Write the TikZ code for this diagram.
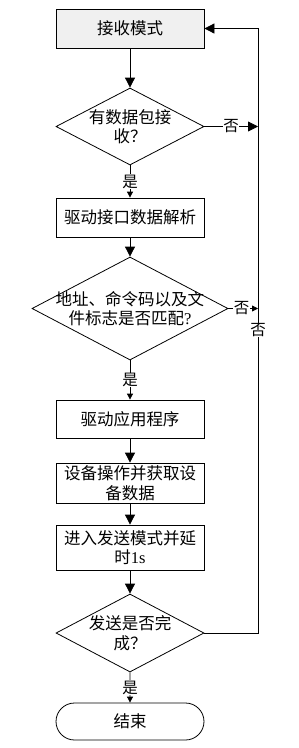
\documentclass[tikz,border=0pt]{standalone}
\usepackage{fontspec}
\setmainfont{Liberation Serif}
\newfontfamily\cjk{Noto Sans CJK SC}
\usetikzlibrary{shapes.geometric,shapes.misc,arrows.meta}
\begin{document}
\begin{tikzpicture}[x=1pt,y=-1pt,
  every node/.style={font=\fontsize{16.5}{19.5}\selectfont\cjk},
  box/.style={draw,line width=0.8pt,minimum width=148pt,inner sep=0pt,align=center},
  dec/.style={draw,diamond,line width=0.8pt,inner sep=0pt},
  txt/.style={align=center,inner sep=0pt},
  yn/.style={fill=white,inner sep=0.5pt,font=\fontsize{15.5}{17}\selectfont\cjk},
  conn/.style={line width=0.8pt},
  big/.style={conn,-{Triangle[width=10pt,length=10pt]}},
  small/.style={conn,-{Triangle[width=6pt,length=6pt]}}]
\useasboundingbox (0,0) rectangle (298,748);
% boxes
\node[box,fill=gray!12,minimum height=39pt] (b1) at (130,28.5) {接收模式};
\node[dec,minimum width=148pt,minimum height=77pt] (d1) at (130,126.5) {};
\node[txt] (t1) at (d1.center) {有数据包接\\收？};
\node[box,minimum height=39pt] (b2) at (130,217.5) {驱动接口数据解析};
\node[dec,minimum width=196pt,minimum height=103pt] (d2) at (130,308.5) {};
\node[txt] (t2) at (d2.center) {地址、命令码以及文\\件标志是否匹配{\rmfamily ?}};
\node[box,minimum height=38pt] (b3) at (130,419) {驱动应用程序};
\node[box,minimum height=40pt] (b4) at (130,483) {设备操作并获取设\\备数据};
\node[box,minimum height=45pt] (b5) at (130,547.5) {进入发送模式并延\\时{\rmfamily 1s}};
\node[dec,minimum width=148pt,minimum height=78pt] (d4) at (130,633) {};
\node[txt] (t4) at (d4.center) {发送是否完\\成？};
\node[draw,rounded rectangle,line width=0.8pt,minimum width=148pt,minimum height=37pt,inner sep=0pt] (end) at (130,721.5) {结束};
% coordinates on the return line
\coordinate (r1) at (258,126.5);
\coordinate (r2) at (258,308.5);
\coordinate (rt) at (258,28.5);
\coordinate (rb) at (258,633);
% connectors
\draw[big] (b1) -- (d1);
\draw[small] (d1) -- node[yn] (y1) {是} (b2);
\draw[big] (b2) -- (d2);
\draw[small] (d2) -- node[yn] (y2) {是} (b3);
\draw[big] (b3) -- (b4);
\draw[big] (b4) -- (b5);
\draw[big] (b5) -- (d4);
\draw[small] (d4) -- node[yn] (y3) {是} (end);
\draw[big] (d1.east) -- node[yn] (n1) {否} (r1);
\draw[small] (d2.east) -- node[yn,pos=0.45] (n2) {否} (r2);
\draw[big] (d4.east) -- (rb) -- (rt) -- (b1.east);
\node[yn] (n3) at (258,330) {否};
\end{tikzpicture}
\end{document}
